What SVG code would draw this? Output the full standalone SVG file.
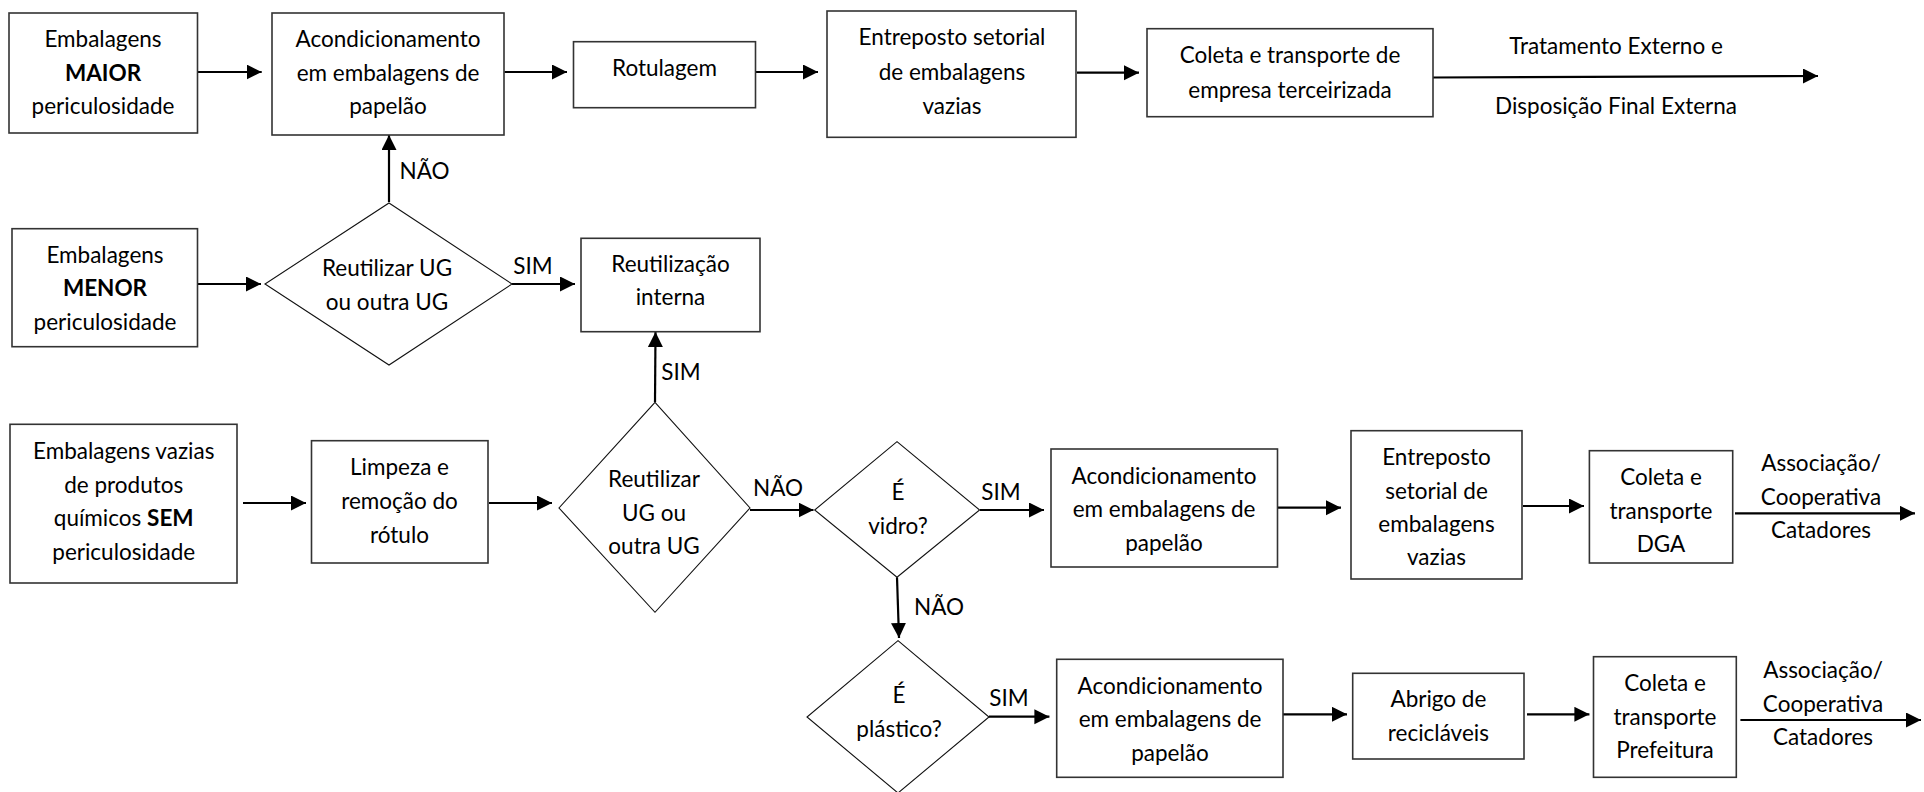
<svg xmlns="http://www.w3.org/2000/svg" width="1924" height="792" viewBox="0 0 1924 792">
<defs>
<style>
.box{fill:#fff;stroke:#333;stroke-width:1.6}
.dia{fill:#fff;stroke:#111;stroke-width:1.1}
.t{font-family:Lato,"Liberation Sans",sans-serif;font-size:22.5px;fill:#000;text-anchor:middle}
.b{font-weight:bold}
.c{stroke:#000;stroke-width:2.2;fill:none;marker-end:url(#ah)}
</style>
<marker id="ah" markerUnits="userSpaceOnUse" markerWidth="16" markerHeight="16" refX="15" refY="7.5" orient="auto">
<path d="M0,0 L15,7.5 L0,15 z" fill="#000"/>
</marker>
</defs>
<rect width="1924" height="792" fill="#fff"/>

<g id="connectors">
<line class="c" x1="198" y1="72" x2="261.7" y2="72"/>
<line class="c" x1="504.5" y1="72" x2="567" y2="72"/>
<line class="c" x1="756" y1="72" x2="818" y2="72"/>
<line class="c" x1="1077" y1="72.7" x2="1139" y2="72.7"/>
<line class="c" x1="1433" y1="77.5" x2="1818" y2="76"/>
<line class="c" x1="389" y1="202" x2="389" y2="135"/>
<line class="c" x1="198" y1="284" x2="261" y2="284"/>
<line class="c" x1="512" y1="284" x2="575" y2="284"/>
<line class="c" x1="243" y1="503" x2="306" y2="503"/>
<line class="c" x1="489" y1="503" x2="552" y2="503"/>
<line class="c" x1="655" y1="402" x2="655.5" y2="332"/>
<line class="c" x1="750" y1="510" x2="813.5" y2="510"/>
<line class="c" x1="980" y1="510" x2="1044" y2="510"/>
<line class="c" x1="897" y1="577.3" x2="899" y2="638"/>
<line class="c" x1="989" y1="716.7" x2="1049.4" y2="716.7"/>
<line class="c" x1="1278" y1="507.7" x2="1341" y2="507.7"/>
<line class="c" x1="1523" y1="506" x2="1584" y2="506"/>
<line class="c" x1="1735" y1="513.3" x2="1915" y2="513.3"/>
<line class="c" x1="1283" y1="714.3" x2="1347" y2="714.3"/>
<line class="c" x1="1527" y1="714.3" x2="1589.4" y2="714.3"/>
<line class="c" x1="1740.4" y1="720" x2="1921" y2="720"/>
<g class="t">
<text x="424.5" y="179">NÃO</text>
<text x="533" y="274">SIM</text>
<text x="681" y="380">SIM</text>
<text x="778" y="496">NÃO</text>
<text x="1001" y="500">SIM</text>
<text x="939" y="615">NÃO</text>
<text x="1009" y="706">SIM</text>
<text x="1616" y="54">Tratamento Externo e</text>
<text x="1616" y="114">Disposição Final Externa</text>
<text x="1821" y="471">Associação/</text>
<text x="1821" y="505">Cooperativa</text>
<text x="1821" y="538">Catadores</text>
<text x="1823" y="678">Associação/</text>
<text x="1823" y="712">Cooperativa</text>
<text x="1823" y="745">Catadores</text>
</g>
</g>

<g id="n_maior">
<rect class="box" x="9" y="13" width="188.5" height="120"/>
<text class="t" x="103" y="47">Embalagens</text>
<text class="t b" x="103" y="81">MAIOR</text>
<text class="t" x="103" y="114">periculosidade</text>
</g>

<g id="n_acond1">
<rect class="box" x="272" y="13" width="232" height="122"/>
<text class="t" x="388" y="47">Acondicionamento</text>
<text class="t" x="388" y="81">em embalagens de</text>
<text class="t" x="388" y="114">papelão</text>
</g>

<g id="n_rot">
<rect class="box" x="573.5" y="41.7" width="182" height="66"/>
<text class="t" x="664.5" y="76">Rotulagem</text>
</g>

<g id="n_entre1">
<rect class="box" x="827" y="11" width="249" height="126.3"/>
<text class="t" x="952" y="45">Entreposto setorial</text>
<text class="t" x="952" y="80">de embalagens</text>
<text class="t" x="952" y="114">vazias</text>
</g>

<g id="n_coleta1">
<rect class="box" x="1147" y="28.7" width="286" height="88"/>
<text class="t" x="1290" y="63">Coleta e transporte de</text>
<text class="t" x="1290" y="98">empresa terceirizada</text>
</g>

<g id="n_menor">
<rect class="box" x="12" y="228.7" width="185.5" height="118"/>
<text class="t" x="105" y="263">Embalagens</text>
<text class="t b" x="105" y="296">MENOR</text>
<text class="t" x="105" y="330">periculosidade</text>
</g>

<g id="d_reut1">
<polygon class="dia" points="389,203 512,284 389,365 265,284"/>
<text class="t" x="387" y="276">Reutilizar UG</text>
<text class="t" x="387" y="310">ou outra UG</text>
</g>

<g id="n_reut">
<rect class="box" x="581" y="238.3" width="179" height="93.4"/>
<text class="t" x="670.5" y="272">Reutilização</text>
<text class="t" x="670.5" y="305">interna</text>
</g>

<g id="n_sem">
<rect class="box" x="10" y="424.3" width="227" height="158.7"/>
<text class="t" x="123.7" y="459">Embalagens vazias</text>
<text class="t" x="123.7" y="493">de produtos</text>
<text class="t" x="123.7" y="526">químicos <tspan class="b">SEM</tspan></text>
<text class="t" x="123.7" y="560">periculosidade</text>
</g>

<g id="n_limp">
<rect class="box" x="311.5" y="440.7" width="176.5" height="122.3"/>
<text class="t" x="399.5" y="475">Limpeza e</text>
<text class="t" x="399.5" y="509">remoção do</text>
<text class="t" x="399.5" y="543">rótulo</text>
</g>

<g id="d_reut2">
<polygon class="dia" points="655,402.3 750,508 655,612.3 559,508"/>
<text class="t" x="654" y="487">Reutilizar</text>
<text class="t" x="654" y="521">UG ou</text>
<text class="t" x="654" y="554">outra UG</text>
</g>

<g id="d_vidro">
<polygon class="dia" points="897,441.7 979.6,510 897,577.3 814.7,510"/>
<text class="t" x="898" y="500">É</text>
<text class="t" x="898" y="534">vidro?</text>
</g>

<g id="n_acond2">
<rect class="box" x="1051" y="449" width="226.5" height="118"/>
<text class="t" x="1164" y="484">Acondicionamento</text>
<text class="t" x="1164" y="517">em embalagens de</text>
<text class="t" x="1164" y="551">papelão</text>
</g>

<g id="n_entre2">
<rect class="box" x="1351" y="430.7" width="171" height="148.3"/>
<text class="t" x="1436.5" y="465">Entreposto</text>
<text class="t" x="1436.5" y="499">setorial de</text>
<text class="t" x="1436.5" y="532">embalagens</text>
<text class="t" x="1436.5" y="565">vazias</text>
</g>

<g id="n_dga">
<rect class="box" x="1589.4" y="450.7" width="143.3" height="112.3"/>
<text class="t" x="1661" y="485">Coleta e</text>
<text class="t" x="1661" y="519">transporte</text>
<text class="t" x="1661" y="552">DGA</text>
</g>

<g id="d_plast">
<polygon class="dia" points="898,640.7 989,717 898,793 807,717"/>
<text class="t" x="899" y="703">É</text>
<text class="t" x="899" y="737">plástico?</text>
</g>

<g id="n_acond3">
<rect class="box" x="1056.7" y="659.3" width="226.3" height="118"/>
<text class="t" x="1170" y="694">Acondicionamento</text>
<text class="t" x="1170" y="727">em embalagens de</text>
<text class="t" x="1170" y="761">papelão</text>
</g>

<g id="n_abrigo">
<rect class="box" x="1352.7" y="673.3" width="171.3" height="85.7"/>
<text class="t" x="1438.4" y="707">Abrigo de</text>
<text class="t" x="1438.4" y="741">recicláveis</text>
</g>

<g id="n_pref">
<rect class="box" x="1593.5" y="656.7" width="142.8" height="120.6"/>
<text class="t" x="1665" y="691">Coleta e</text>
<text class="t" x="1665" y="725">transporte</text>
<text class="t" x="1665" y="758">Prefeitura</text>
</g>
</svg>
